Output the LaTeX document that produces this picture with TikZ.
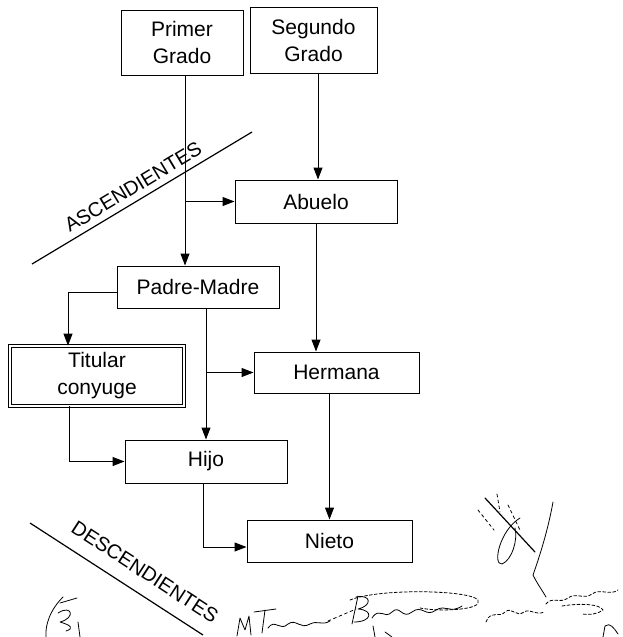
\documentclass[tikz,border=0pt]{standalone}
\usepackage{fontspec}
\setmainfont{Liberation Sans}
\usetikzlibrary{calc}
\usetikzlibrary{arrows.meta}

\tikzset{
  caja/.style={draw=black,line width=1pt,inner sep=0pt,align=center,font=\fontsize{21}{27}\selectfont},
  flecha/.style={black,line width=1pt,-{Triangle[length=12pt,width=9pt]}},
  linea/.style={black,line width=1.2pt},
  rotulo/.style={font=\fontsize{20}{24}\selectfont},
  firma/.style={black,line width=0.8pt,line cap=round,line join=round}
}

\begin{document}
\begin{tikzpicture}[x=1pt,y=-1pt]
\useasboundingbox (0,0) rectangle (623,637);

\node[caja,minimum width=122pt,minimum height=65pt] (primer) at (182,42.5) {Primer\\Grado};
\node[caja,minimum width=127pt,minimum height=66pt] (segundo) at (313.5,40) {Segundo\\Grado};
\node[caja,minimum width=162pt,minimum height=43pt] (abuelo) at (316,201.5) {Abuelo};
\node[caja,minimum width=162pt,minimum height=42pt] (padres) at (198,287) {Padre-Madre};
\node[caja,double,line width=0.8pt,double distance=1.6pt,minimum width=174pt,minimum height=60pt] (titular) at (97,376) {Titular\\conyuge};
\node[caja,minimum width=165pt,minimum height=41pt] (hermana) at (336.5,372.5) {Hermana};
\node[caja,minimum width=162pt,minimum height=43pt] (hijo) at (206,461.5) {Hijo};
\node[caja,minimum width=165pt,minimum height=42pt] (nieto) at (329.5,541) {Nieto};

\coordinate (p1) at ($(primer.south)+(3,0)$);
\coordinate (s1) at ($(segundo.south)+(4.5,0)$);
\coordinate (t1) at ($(titular.north)+(-29,0)$);
\coordinate (t2) at ($(titular.south)+(-28,0)$);
\coordinate (h1) at ($(hijo.south)+(-3,0)$);

\draw[flecha] (p1) -- (p1 |- padres.north);
\draw[flecha] (p1 |- abuelo.west) -- (abuelo.west);
\draw[flecha] (s1) -- (s1 |- abuelo.north);
\draw[flecha] (abuelo.south) -- (abuelo.south |- hermana.north);
\draw[flecha] ($(padres.west)+(0,5)$) -| (t1);
\draw[flecha] (hijo.north |- padres.south) -- (hijo.north);
\draw[flecha] (hijo.north |- hermana.west) -- (hermana.west);
\draw[flecha] (t2) |- (hijo.west);
\draw[flecha] (h1) |- ($(nieto.west)+(0,6)$);
\draw[flecha] (nieto.north |- hermana.south) -- (nieto.north);

\coordinate (asc1) at (32,264);
\coordinate (asc2) at (252,132);
\coordinate (desc1) at (30,523);
\coordinate (desc2) at (203,635);
\draw[linea] (asc1) -- (asc2);
\draw[linea] (desc1) -- (desc2);
\node[rotulo,rotate=31] (asc) at (133,187) {ASCENDIENTES};
\node[rotulo,rotate=-33] (desc) at (145,572) {DESCENDIENTES};

\draw[firma] (63,597) .. controls (50,610) and (45,625) .. (46,637);
\draw[firma] (60,603) -- (77,598);
\draw[firma] (58,613) .. controls (72,604) and (76,618) .. (60,622) .. controls (70,625) and (75,628) .. (66,631);
\draw[firma] (78,622) -- (80,637);
\draw[firma] (237,636) -- (240,618) -- (245,630) -- (249,616) -- (251,635);
\draw[firma] (254,612) -- (276,609);
\draw[firma] (265,610) -- (262,633);
\draw[firma] (268,628) .. controls (275,618) and (280,632) .. (288,624) .. controls (296,618) and (300,630) .. (310,624) .. controls (318,620) and (322,626) .. (330,621);
\draw[firma,dashed] (328,621) -- (356,609);
\draw[firma] (358,596) -- (352,624);
\draw[firma] (356,597) .. controls (372,594) and (372,606) .. (358,609) .. controls (374,610) and (372,622) .. (354,622);
\draw[firma] (372,618) .. controls (380,606) and (384,620) .. (392,612) .. controls (400,604) and (402,620) .. (412,612) .. controls (422,604) and (426,618) .. (436,610) .. controls (446,604) and (450,614) .. (462,606);
\draw[firma,densely dashed] (350,600) .. controls (380,588) and (470,590) .. (478,600) .. controls (484,610) and (440,612) .. (420,608);
\draw[firma] (373,626) -- (375,637);
\draw[firma] (385,632) -- (392,637);
\draw[firma,line width=1.2pt] (485,498) -- (535,552);
\draw[firma] (553,502) .. controls (548,530) and (540,555) .. (533,575) .. controls (538,585) and (542,590) .. (546,597);
\draw[firma] (520,518) .. controls (500,530) and (492,565) .. (502,564) .. controls (512,560) and (518,540) .. (515,528);
\draw[firma,dashed] (478,510) -- (494,530);
\draw[firma,dashed] (497,494) -- (500,512);
\draw[firma,dashed] (508,505) -- (520,530);
\draw[firma,densely dashed] (486,622) .. controls (490,610) and (500,618) .. (505,612) .. controls (512,606) and (516,618) .. (524,612) .. controls (530,608) and (536,616) .. (544,612);
\draw[firma,densely dashed] (546,604) .. controls (552,596) and (560,604) .. (568,598) .. controls (576,592) and (584,600) .. (592,594) .. controls (600,588) and (610,596) .. (618,590);
\draw[firma,densely dashed] (562,606) .. controls (580,603) and (600,604) .. (603,610) .. controls (598,614) and (590,615) .. (582,614);
\draw[firma] (603,637) -- (605,626) .. controls (610,622) and (614,628) .. (618,634);
\end{tikzpicture}
\end{document}
